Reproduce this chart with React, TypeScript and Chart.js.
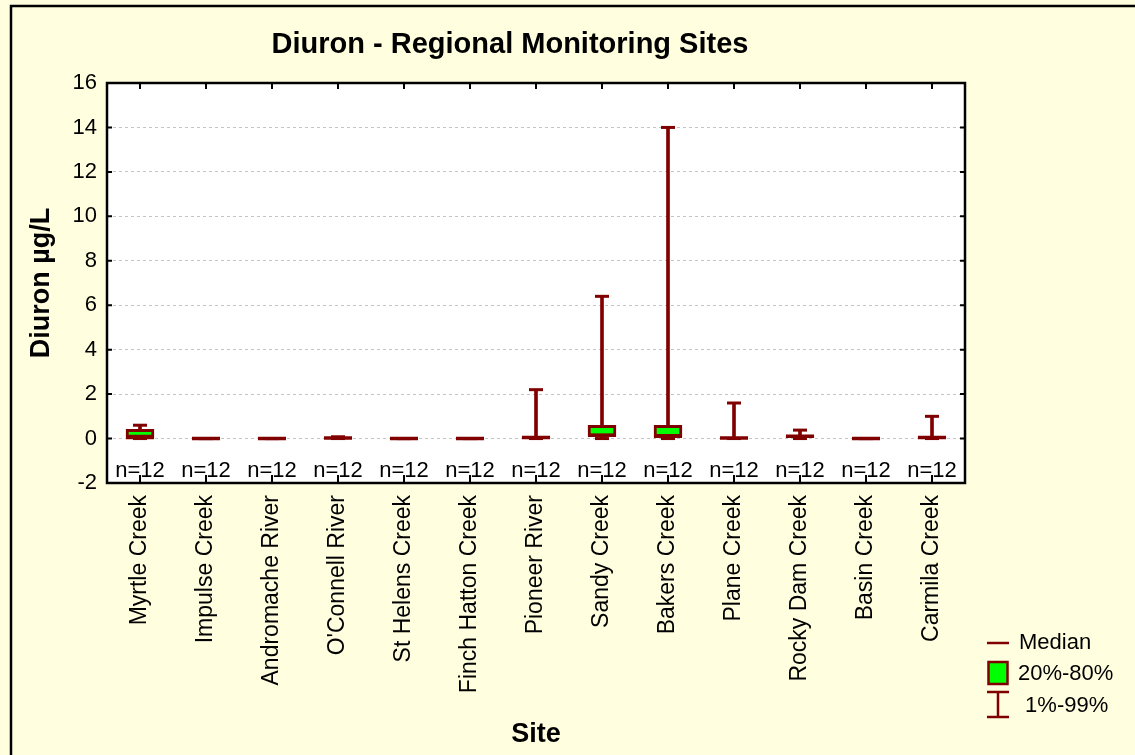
import React, { useEffect, useRef } from 'react';
import { Chart, registerables } from 'chart.js';

Chart.register(...registerables);

const chartTitle = 'Diuron - Regional Monitoring Sites';
const yTitle = 'Diuron µg/L';
const xTitle = 'Site';

const sites = [
  'Myrtle Creek',
  'Impulse Creek',
  'Andromache River',
  "O'Connell River",
  'St Helens Creek',
  'Finch Hatton Creek',
  'Pioneer River',
  'Sandy Creek',
  'Bakers Creek',
  'Plane Creek',
  'Rocky Dam Creek',
  'Basin Creek',
  'Carmila Creek',
];

// percentiles (µg/L)
const p1 = [0, 0, 0, 0, 0, 0, 0, 0, 0, 0, 0, 0, 0];
const q20 = [0.05, null, null, 0.01, null, null, 0.02, 0.1, 0.08, 0.0, 0.05, null, 0.02];
const medians = [0.05, 0, 0, 0.02, 0, 0, 0.05, 0.15, 0.1, 0.02, 0.1, 0, 0.05];
const q80 = [0.42, null, null, 0.03, null, null, 0.08, 0.6, 0.6, 0.03, 0.12, null, 0.08];
const p99 = [0.6, 0, 0, 0.08, 0, 0, 2.2, 6.4, 14.0, 1.6, 0.38, 0, 1.0];
const nCounts = [12, 12, 12, 12, 12, 12, 12, 12, 12, 12, 12, 12, 12];

const yMin = -2;
const yMax = 16;
const yStep = 2;
const nLabelValue = -1.47;

const legendItems = ['Median', '20%-80%', ' 1%-99%'];

const MAROON = '#800000';
const GREEN = '#00FF00';
const BG = '#FFFFDF';
const FONT = 'Arial, "Liberation Sans", Helvetica, sans-serif';

const decorPlugin = {
  id: 'decor',
  beforeDraw(chart: any) {
    const { ctx, chartArea: a, width, height } = chart;
    ctx.save();
    ctx.fillStyle = BG;
    ctx.fillRect(0, 0, width, height);
    ctx.fillStyle = '#FFFFFF';
    ctx.fillRect(a.left, a.top, a.right - a.left, a.bottom - a.top);
    // outer border (top and left)
    ctx.strokeStyle = '#000';
    ctx.lineWidth = 2.5;
    ctx.beginPath();
    ctx.moveTo(11, height);
    ctx.lineTo(11, 6);
    ctx.lineTo(width, 6);
    ctx.stroke();
    // title
    ctx.fillStyle = '#000';
    ctx.font = `bold 29px ${FONT}`;
    ctx.textAlign = 'center';
    ctx.textBaseline = 'middle';
    ctx.fillText(chartTitle, 510, 45);
    ctx.restore();
  },
  afterDraw(chart: any) {
    const { ctx, chartArea: a, scales } = chart;
    const xs = scales.x;
    const ys = scales.y;
    ctx.save();
    // frame
    ctx.strokeStyle = '#000';
    ctx.lineWidth = 2.5;
    ctx.strokeRect(a.left, a.top, a.right - a.left, a.bottom - a.top);
    // inner tick marks
    ctx.lineWidth = 2;
    ctx.beginPath();
    for (let v = yMin; v <= yMax; v += yStep) {
      const y = ys.getPixelForValue(v);
      ctx.moveTo(a.left, y);
      ctx.lineTo(a.left + 5, y);
      ctx.moveTo(a.right, y);
      ctx.lineTo(a.right - 5, y);
    }
    sites.forEach((_, i) => {
      const x = xs.getPixelForValue(i);
      ctx.moveTo(x, a.top);
      ctx.lineTo(x, a.top + 6);
      ctx.moveTo(x, a.bottom);
      ctx.lineTo(x, a.bottom - 8);
    });
    ctx.stroke();
    // n labels
    ctx.fillStyle = '#000';
    ctx.font = `22px ${FONT}`;
    ctx.textAlign = 'center';
    ctx.textBaseline = 'middle';
    nCounts.forEach((n, i) => {
      ctx.fillText(`n=${n}`, xs.getPixelForValue(i), ys.getPixelForValue(nLabelValue));
    });
    // legend
    const lx = 987;
    const lw = 22;
    ctx.strokeStyle = MAROON;
    ctx.lineWidth = 2.5;
    ctx.beginPath();
    ctx.moveTo(lx, 643);
    ctx.lineTo(lx + lw, 643);
    ctx.stroke();
    ctx.fillStyle = GREEN;
    ctx.fillRect(lx + 1.5, 662, lw - 3, 22);
    ctx.strokeRect(lx + 1.5, 662, lw - 3, 22);
    ctx.beginPath();
    ctx.moveTo(lx, 692);
    ctx.lineTo(lx + lw, 692);
    ctx.moveTo(lx + lw / 2, 692);
    ctx.lineTo(lx + lw / 2, 717);
    ctx.moveTo(lx, 717);
    ctx.lineTo(lx + lw, 717);
    ctx.stroke();
    ctx.fillStyle = '#000';
    ctx.font = `22px ${FONT}`;
    ctx.textAlign = 'left';
    ctx.fillText(legendItems[0], 1019, 643);
    ctx.fillText(legendItems[1], 1018, 674);
    ctx.fillText(legendItems[2], 1019, 706);
    ctx.restore();
  },
};

export default function App() {
  const ref = useRef<HTMLCanvasElement | null>(null);

  useEffect(() => {
    document.body.style.margin = '0';
    const canvas = ref.current;
    if (!canvas) return;
    const boxData = q20.map((lo, i) => (lo === null || q80[i] === null ? null : [lo, q80[i]]));
    const whiskerData = p99.map((hi, i) => (hi > p1[i] ? [p1[i], hi] : null));

    const chart = new Chart(canvas, {
      type: 'bar',
      data: {
        labels: sites,
        datasets: [
          {
            type: 'line',
            label: 'Median',
            data: medians,
            showLine: false,
            pointStyle: 'line',
            pointRadius: 14,
            pointHoverRadius: 14,
            pointBorderWidth: 3.5,
            pointBorderColor: MAROON,
            borderColor: MAROON,
            order: 1,
          } as any,
          {
            type: 'line',
            label: '99%',
            data: p99,
            showLine: false,
            pointStyle: 'line',
            pointRadius: 7,
            pointHoverRadius: 7,
            pointBorderWidth: 3,
            pointBorderColor: MAROON,
            borderColor: MAROON,
            order: 2,
          } as any,
          {
            type: 'line',
            label: '1%',
            data: p1,
            showLine: false,
            pointStyle: 'line',
            pointRadius: 7,
            pointHoverRadius: 7,
            pointBorderWidth: 3,
            pointBorderColor: MAROON,
            borderColor: MAROON,
            order: 2,
          } as any,
          {
            type: 'bar',
            label: '20%-80%',
            data: boxData as any,
            backgroundColor: GREEN,
            borderColor: MAROON,
            borderWidth: 3,
            borderSkipped: false,
            barThickness: 28,
            grouped: false,
            order: 3,
          } as any,
          {
            type: 'bar',
            label: '1%-99%',
            data: whiskerData as any,
            backgroundColor: MAROON,
            borderWidth: 0,
            barThickness: 3,
            grouped: false,
            order: 4,
          } as any,
        ],
      },
      options: {
        responsive: false,
        animation: false,
        events: [],
        layout: { padding: { top: 83, right: 170, left: 0, bottom: 0 } },
        plugins: {
          legend: { display: false },
          tooltip: { enabled: false },
          title: { display: false },
        },
        scales: {
          x: {
            type: 'category',
            offset: true,
            grid: { display: false, drawTicks: false },
            border: { display: false },
            ticks: {
              autoSkip: false,
              minRotation: 90,
              maxRotation: 90,
              padding: 12,
              color: '#000',
              font: { family: FONT, size: 23 },
            },
            title: {
              display: true,
              text: xTitle,
              color: '#000',
              font: { family: FONT, size: 27, weight: 'bold' },
              padding: { top: 0, bottom: 4 },
            },
            afterFit(scale: any) {
              scale.height = 272;
            },
          },
          y: {
            type: 'linear',
            min: yMin,
            max: yMax,
            ticks: {
              stepSize: yStep,
              padding: 10,
              color: '#000',
              font: { family: FONT, size: 22 },
            },
            grid: { color: '#C4C4C4', lineWidth: 1, drawTicks: false },
            border: { display: false, dash: [3, 3] },
            title: {
              display: true,
              text: yTitle,
              color: '#000',
              font: { family: FONT, size: 27, weight: 'bold' },
              padding: { top: 25, bottom: 0 },
            },
            afterFit(scale: any) {
              scale.width = 107;
            },
          },
        },
      },
      plugins: [decorPlugin],
    } as any);

    return () => chart.destroy();
  }, []);

  return (
    <div style={{ width: 1135, height: 755 }}>
      <canvas ref={ref} width={1135} height={755} style={{ display: 'block' }} />
    </div>
  );
}
